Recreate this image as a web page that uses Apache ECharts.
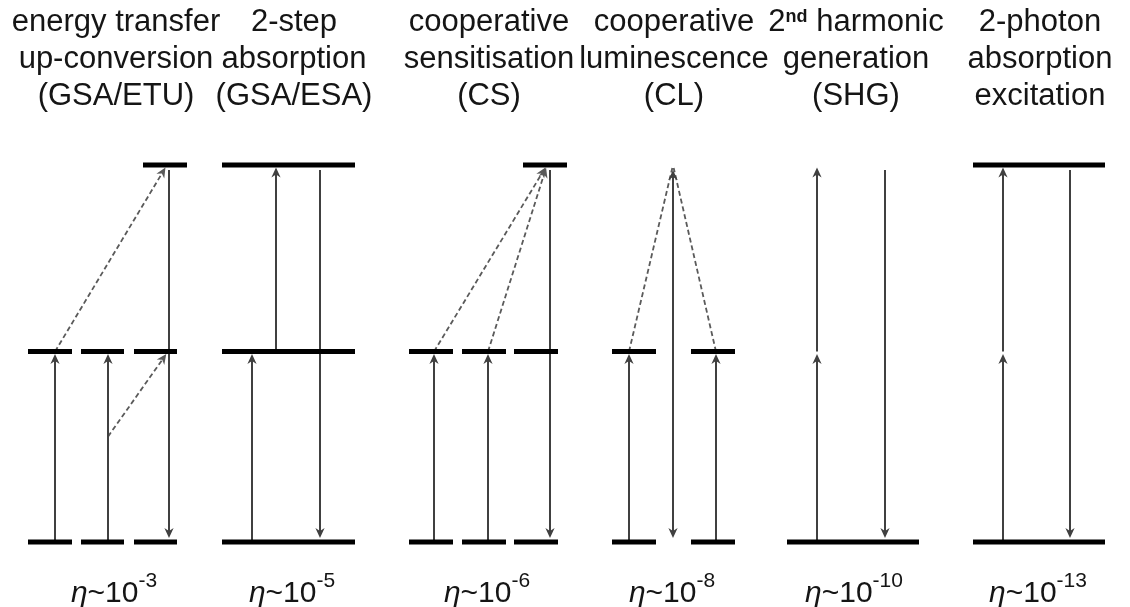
<!DOCTYPE html>
<html>
<head>
<meta charset="utf-8">
<script src="https://cdn.jsdelivr.net/npm/echarts@6/dist/echarts.min.js"></script>
<style>
  html, body { margin: 0; padding: 0; background: #fff; }
  #chart { width: 1130px; height: 607px; }
</style>
</head>
<body>
<div id="chart"></div>
<script>
// ---- energy scale (ground = 0, upper level = 2) ----
const GROUND = 0;
const MID = 1.01;
const UPPER = 2;

// ---- mechanism names (three lines each) ----
const mechanisms = [
  'energy transfer\nup-conversion\n(GSA/ETU)',
  '2-step\nabsorption\n(GSA/ESA)',
  'cooperative\nsensitisation\n(CS)',
  'cooperative\nluminescence\n(CL)',
  '2{sup|nd} harmonic\ngeneration\n(SHG)',
  '2-photon\nabsorption\nexcitation'
];

// ---- efficiency exponents (eta ~ 10^x) ----
const efficiencyExponents = ['-3', '-5', '-6', '-8', '-10', '-13'];

// ---- energy levels: [xStart, xEnd, energy] ----
const etuLevels = [
  [28, 72, GROUND], [81, 124, GROUND], [134, 177, GROUND],
  [28, 72, MID], [81, 124, MID], [134, 177, MID],
  [143, 187, UPPER]
];
const esaLevels = [[222, 355, GROUND], [222, 355, MID], [222, 355, UPPER]];
const csLevels = [
  [409, 453, GROUND], [462, 506, GROUND], [514, 558, GROUND],
  [409, 453, MID], [462, 506, MID], [514, 558, MID],
  [523, 567, UPPER]
];
const clLevels = [[612, 656, GROUND], [691, 735, GROUND], [612, 656, MID], [691, 735, MID]];
const shgLevels = [[787, 919, GROUND]];
const tpaLevels = [[973, 1105, GROUND], [973, 1105, UPPER]];

// ---- radiative transitions: [x, fromEnergy, toEnergy, heads] ----
const etuTransitions = [[55, GROUND, MID, 1], [108, GROUND, MID, 1], [169, UPPER, GROUND, 1]];
const esaTransitions = [[252, GROUND, MID, 1], [276, MID, UPPER, 1], [320, UPPER, GROUND, 1]];
const csTransitions = [[434, GROUND, MID, 1], [488, GROUND, MID, 1], [550, UPPER, GROUND, 1]];
const clTransitions = [[629, GROUND, MID, 1], [716, GROUND, MID, 1], [673, UPPER, GROUND, 2]];
const shgTransitions = [[817, GROUND, MID, 1], [817, MID, UPPER, 1], [885, UPPER, GROUND, 1]];
const tpaTransitions = [[1003, GROUND, MID, 1], [1003, MID, UPPER, 1], [1070, UPPER, GROUND, 1]];

// ---- energy-transfer paths: [xFrom, eFrom, xTo, eTo, arrowhead] ----
const etuTransfers = [[55, MID, 167, UPPER, 1], [108, 0.559, 168, MID, 1]];
const csTransfers = [[434, MID, 547, UPPER, 1], [488, MID, 547, UPPER, 1]];
const clTransfers = [[629, MID, 673, UPPER, 0], [716, MID, 673, UPPER, 0]];

// ---- layout (drawing only) ----
const panelCenters = [116, 294, 489, 674, 856, 1040];
const TEXT_FONT = '"Liberation Sans", Arial, sans-serif';
const TEXT_COLOR = '#151515';
const LEVEL_COLOR = '#000';
const LINE_COLOR = '#404040';
const DASH_COLOR = '#5a5a5a';

const levels = [].concat(etuLevels, esaLevels, csLevels, clLevels, shgLevels, tpaLevels);
const transitions = [].concat(etuTransitions, esaTransitions, csTransitions, clTransitions, shgTransitions, tpaTransitions);
const transfers = [].concat(etuTransfers, csTransfers, clTransfers);

// filled arrowhead with a notched back; tip at `tip`, pointing along `dir`
function arrowHead(tip, dir, color) {
  const L = 10, W = 4.6, N = 3;
  const bx = tip[0] - dir[0] * L, by = tip[1] - dir[1] * L;
  const px = -dir[1], py = dir[0];
  return {
    type: 'polygon',
    shape: { points: [
      [tip[0], tip[1]],
      [bx + px * W, by + py * W],
      [tip[0] - dir[0] * (L - N), tip[1] - dir[1] * (L - N)],
      [bx - px * W, by - py * W]
    ] },
    style: { fill: color }
  };
}

function unit(a, b) {
  const dx = b[0] - a[0], dy = b[1] - a[1];
  const len = Math.sqrt(dx * dx + dy * dy) || 1;
  return [dx / len, dy / len];
}

// straight arrow between two points with gaps at each end
function arrowGroup(p0, p1, opts) {
  const d = unit(p0, p1);
  const s = [p0[0] + d[0] * opts.startGap, p0[1] + d[1] * opts.startGap];
  const t = [p1[0] - d[0] * opts.endGap, p1[1] - d[1] * opts.endGap];
  const cutEnd = opts.endHead ? 6 : 0;
  const cutStart = opts.startHead ? 6 : 0;
  const children = [{
    type: 'line',
    shape: {
      x1: s[0] + d[0] * cutStart, y1: s[1] + d[1] * cutStart,
      x2: t[0] - d[0] * cutEnd, y2: t[1] - d[1] * cutEnd
    },
    style: { stroke: opts.color, lineWidth: opts.width, lineDash: opts.dash || null }
  }];
  if (opts.endHead) children.push(arrowHead(t, d, opts.color));
  if (opts.startHead) children.push(arrowHead(s, [-d[0], -d[1]], opts.color));
  return { type: 'group', children: children };
}

const chart = echarts.init(document.getElementById('chart'), null, { renderer: 'canvas' });

const graphics = [];
mechanisms.forEach(function (name, i) {
  graphics.push({
    type: 'text',
    x: panelCenters[i],
    y: 4,
    style: {
      text: name,
      align: 'center',
      verticalAlign: 'top',
      fontFamily: TEXT_FONT,
      fontSize: 31,
      lineHeight: 37,
      fill: TEXT_COLOR,
      rich: {
        sup: { fontFamily: TEXT_FONT, fontSize: 18, fontWeight: 'bold', verticalAlign: 'top', height: 26, fill: TEXT_COLOR }
      }
    }
  });
});
efficiencyExponents.forEach(function (exp, i) {
  graphics.push({
    type: 'text',
    x: panelCenters[i] - 2,
    y: 577,
    style: {
      text: '{eta|η}~10{sup|' + exp + '}',
      align: 'center',
      verticalAlign: 'top',
      fontFamily: TEXT_FONT,
      fontSize: 30,
      lineHeight: 34,
      fill: TEXT_COLOR,
      rich: {
        eta: { fontFamily: TEXT_FONT, fontSize: 30, fontStyle: 'italic', lineHeight: 34, fill: TEXT_COLOR },
        sup: { fontFamily: TEXT_FONT, fontSize: 21, verticalAlign: 'top', height: 9, fill: TEXT_COLOR }
      }
    }
  });
});

chart.setOption({
  animation: false,
  backgroundColor: '#fff',
  grid: { left: 0, right: 0, top: 165, bottom: 65 },
  xAxis: { type: 'value', min: 0, max: 1130, show: false },
  yAxis: { type: 'value', min: 0, max: 2, show: false },
  graphic: graphics,
  series: [
    {
      type: 'custom',
      name: 'transfers',
      data: transfers,
      encode: { x: [0, 2], y: [1, 3] },
      renderItem: function (params, api) {
        const p0 = api.coord([api.value(0), api.value(1)]);
        const p1 = api.coord([api.value(2), api.value(3)]);
        return arrowGroup(p0, p1, {
          startGap: 0, endGap: 3, color: DASH_COLOR, width: 1.8, dash: [5, 3],
          endHead: api.value(4) === 1
        });
      },
      z: 2
    },
    {
      type: 'custom',
      name: 'transitions',
      data: transitions,
      encode: { x: 0, y: [1, 2] },
      renderItem: function (params, api) {
        const x = api.value(0), from = api.value(1), to = api.value(2);
        const p0 = api.coord([x, from]);
        const p1 = api.coord([x, to]);
        const down = to < from;
        return arrowGroup(p0, p1, {
          startGap: down ? 5 : 0, endGap: down ? 4 : 2.5,
          color: LINE_COLOR, width: 2,
          endHead: true, startHead: api.value(3) === 2
        });
      },
      z: 3
    },
    {
      type: 'custom',
      name: 'levels',
      data: levels,
      encode: { x: [0, 1], y: 2 },
      renderItem: function (params, api) {
        const a = api.coord([api.value(0), api.value(2)]);
        const b = api.coord([api.value(1), api.value(2)]);
        return {
          type: 'line',
          shape: { x1: a[0], y1: a[1], x2: b[0], y2: b[1] },
          style: { stroke: LEVEL_COLOR, lineWidth: 5 }
        };
      },
      z: 4
    }
  ]
});
</script>
</body>
</html>
